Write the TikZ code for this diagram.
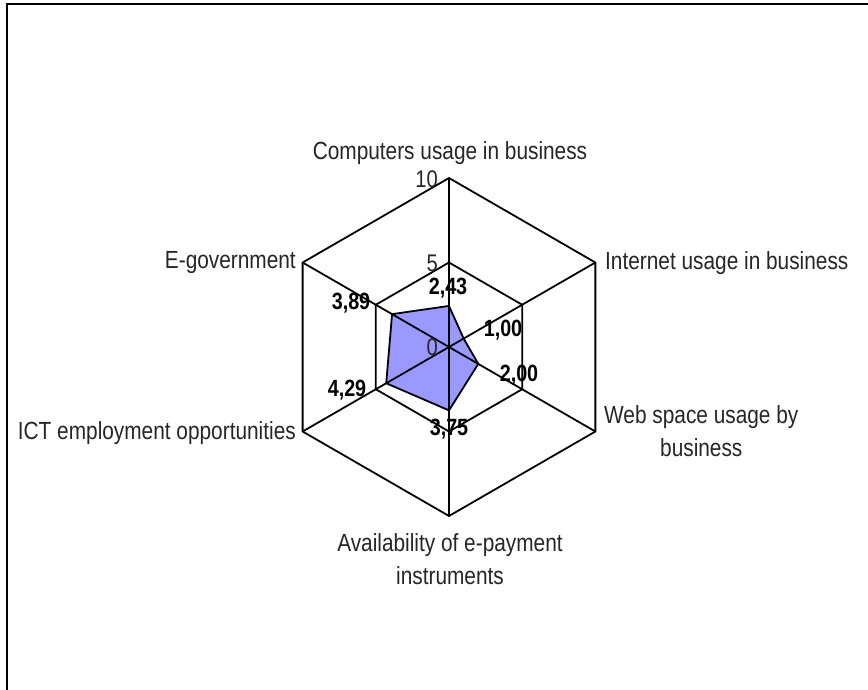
\documentclass[tikz,border=0pt]{standalone}
\usepackage{fontspec}
\setmainfont[FakeStretch=0.84]{Liberation Sans}
\usetikzlibrary{calc}
\begin{document}
\begin{tikzpicture}[x=1pt,y=-1pt,
  grid/.style={line width=1.8pt,black},
  series/.style={line width=1.8pt,black,fill={rgb,255:red,153;green,153;blue,255}},
  cat/.style={inner sep=0pt,font=\fontsize{24.8}{33}\selectfont,text=black!85},
  val/.style={inner sep=0pt,font=\fontsize{23.5}{27}\selectfont\bfseries},
  tick/.style={inner sep=0pt,font=\fontsize{24}{27}\selectfont,text=black!85}]
\useasboundingbox (0,0) rectangle (868,690);
\draw[line width=2pt] (6.5,700) -- (6.5,4.5) -- (880,4.5);
\coordinate (O) at (449,347);
\foreach \i/\a/\v in {1/-90/2.43,2/-30/1.00,3/30/2.00,4/90/3.75,5/150/4.29,6/210/3.89}{
  \coordinate (A\i) at ($(O)+(\a:169)$);
  \coordinate (M\i) at ($(O)+(\a:84.5)$);
  \coordinate (D\i) at ($(O)+(\a:16.9*\v)$);
}
% series
\draw[series] (D1) -- (D2) -- (D3) -- (D4) -- (D5) -- (D6) -- cycle;
% grid
\draw[grid] (A1) -- (A2) -- (A3) -- (A4) -- (A5) -- (A6) -- cycle;
\draw[grid] (M1) -- (M2) -- (M3) -- (M4) -- (M5) -- (M6) -- cycle;
\foreach \i in {1,...,6}{\draw[grid] (O) -- (A\i);}
% tick labels
\node[tick,anchor=east] (t10) at (438,179) {10};
\node[tick,anchor=east] (t5) at (438,263) {5};
\node[tick,anchor=east] (t0) at (438,347) {0};
% category labels
\node[cat] (c1) at (450,153) {Computers usage in business};
\node[cat,anchor=west] (c2) at (605,263) {Internet usage in business};
\node[cat,anchor=west,align=center] (c3) at (604,431) {Web space usage by\\business};
\node[cat,align=center] (c4) at (450,559) {Availability of e-payment\\instruments};
\node[cat,anchor=east] (c5) at (296,433) {ICT employment opportunities};
\node[cat,anchor=east] (c6) at (296,263) {E-government};
% value labels
\node[val] (v1) at (448,288) {2,43};
\node[val] (v2) at (503,330) {1,00};
\node[val] (v3) at (519,375) {2,00};
\node[val] (v4) at (449,429) {3,75};
\node[val] (v5) at (347,390) {4,29};
\node[val] (v6) at (351,303) {3,89};
\end{tikzpicture}
\end{document}
